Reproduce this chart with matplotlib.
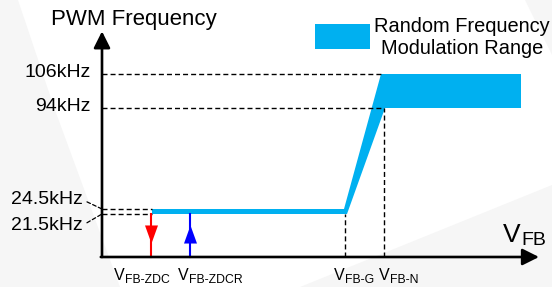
import numpy as np
import matplotlib
matplotlib.use("Agg")
import matplotlib.pyplot as plt
from matplotlib.patches import Polygon, Rectangle

plt.rcParams["font.family"] = ["Liberation Sans", "DejaVu Sans"]

W, H = 552, 287

# frequency levels, kHz
FREQ_TICKS = [106.0, 94.0]
FREQ_TICK_LABELS = ["106kHz", "94kHz"]
FREQ_LOW = [24.5, 21.5]
FREQ_LOW_LABELS = ["24.5kHz", "21.5kHz"]

# V_FB positions along the (unscaled) horizontal axis
X0 = 102
X_END = 539
V_ZDC, V_ZDCR, V_G, V_N = 151, 190, 345, 384
V_NAMES = ["FB-ZDC", "FB-ZDCR", "FB-G", "FB-N"]
V_POS = [V_ZDC, V_ZDCR, V_G, V_N]

# outline of the random frequency modulation band
BAND_UP_V = [152, 344, 381, 521]
BAND_UP_F = [24.5, 24.5, 106.0, 106.0]
BAND_LO_V = [152, 347, 385, 521]
BAND_LO_F = [21.5, 21.5, 94.0, 94.0]

F_TOP = 121.0
HEAD_F = 11.5

# piecewise frequency axis (schematic, not to scale)
KNOTS_F = [-15.0, 0.0, 21.5, 24.5, 94.0, 106.0, 132.0]
KNOTS_H = [0.0, 30.0, 73.0, 78.0, 179.0, 213.0, 287.0]

CYAN = "#00b0f0"
DASH = (0, (3.6, 2.2))


def fwd(f):
    return np.interp(f, KNOTS_F, KNOTS_H)


def inv(h):
    return np.interp(h, KNOTS_H, KNOTS_F)


fig = plt.figure(figsize=(W / 100, H / 100), dpi=100)
fig.patch.set_facecolor("white")

# faint background swoosh
for pts in ([(0, 0), (18, 0), (55, 110), (120, 287), (0, 287)],
            [(300, 287), (552, 185), (552, 287)],
            [(525, 0), (552, 0), (552, 55)]):
    fig.patches.append(Polygon([(x / W, 1 - y / H) for x, y in pts], closed=True,
                               transform=fig.transFigure, color="#f6f6f6", lw=0, zorder=-5))

ax = fig.add_axes([0, 0, 1, 1])
ax.set_yscale("function", functions=(fwd, inv))
ax.set_xlim(0, W)
ax.set_ylim(KNOTS_F[0], KNOTS_F[-1])
ax.axis("off")
ax.patch.set_alpha(0)

# band
ax.fill(np.r_[BAND_UP_V, BAND_LO_V[::-1]], np.r_[BAND_UP_F, BAND_LO_F[::-1]],
        color=CYAN, lw=0, zorder=2)

# dashed guides
ax.plot([X0, BAND_UP_V[2]], [106, 106], color="black", lw=1.0, ls=DASH)
ax.plot([X0, V_N], [94, 94], color="black", lw=1.0, ls=DASH)
for f in FREQ_LOW:
    ax.plot([X0, BAND_UP_V[0]], [f, f], color="black", lw=1.0, ls=DASH)
ax.plot([V_G, V_G], [0, 21.5], color="black", lw=1.0, ls=DASH)
ax.plot([V_N, V_N], [0, 94], color="black", lw=1.0, ls=DASH)

# hysteresis arrows
ax.plot([V_ZDC, V_ZDC], [0, 21.5], color="#ff0000", lw=1.5, zorder=3)
ax.plot(V_ZDC, HEAD_F, marker=[(0, -1), (-0.72, 1), (0.72, 1)], ms=13,
        color="#ff0000", mew=0, zorder=3)
ax.plot([V_ZDCR, V_ZDCR], [0, 21.5], color="#0000ff", lw=1.5, zorder=3)
ax.plot(V_ZDCR, HEAD_F, marker=[(0, 1), (-0.72, -1), (0.72, -1)], ms=13,
        color="#0000ff", mew=0, zorder=3)

# axes with arrow heads
arrow = dict(arrowstyle="-|>,head_length=1.0,head_width=0.5", lw=1.9, color="black",
             shrinkA=0, shrinkB=0, mutation_scale=10)
ax.annotate("", xy=(X0, F_TOP), xytext=(X0, 0), arrowprops=arrow, zorder=4)
ax.annotate("", xy=(X_END, 0), xytext=(X0 - 1.2, 0), arrowprops=arrow, zorder=4)

# frequency labels
for f, lab in zip(FREQ_TICKS, FREQ_TICK_LABELS):
    ax.annotate(lab, xy=(X0, f), xytext=(-8, 1), textcoords="offset points",
                ha="right", va="center", fontsize=14)
for f, lab, dy in zip(FREQ_LOW, FREQ_LOW_LABELS, [6.5, -8.0]):
    ax.annotate(lab, xy=(X0, f), xytext=(-13.7, dy), textcoords="offset points",
                ha="right", va="center", fontsize=14,
                arrowprops=dict(arrowstyle="-", lw=0.9, ls=(0, (3, 2)), color="black",
                                relpos=(1.0, 0.5), shrinkA=1, shrinkB=0))


def v_label(x, sub, dx, dy=-16.6, size=11.5, sub_size=8.8, drop=2.2):
    ax.annotate("V", xy=(x, 0), xytext=(dx, dy), textcoords="offset points",
                ha="left", va="baseline", fontsize=size)
    ax.annotate(sub, xy=(x, 0), xytext=(dx + 0.667 * size, dy - drop),
                textcoords="offset points", ha="left", va="baseline", fontsize=sub_size)


for x, name, dx in zip(V_POS, V_NAMES, [-26.6, -8.6, -7.9, -3.6]):
    v_label(x, name, dx)

# axis titles
fig.text(51 / W, 1 - 20 / H, "PWM Frequency", fontsize=16, ha="left", va="center")
fig.text(503 / W, 1 - 242 / H, "V", fontsize=19, ha="left", va="baseline")
fig.text(521 / W, 1 - 245 / H, "FB", fontsize=14, ha="left", va="baseline")

# legend key
fig.patches.append(Rectangle((315 / W, 1 - 49 / H), 55 / W, 25 / H,
                             transform=fig.transFigure, color=CYAN, lw=0))
fig.text(462 / W, 1 - 37 / H, "Random Frequency\nModulation Range", fontsize=14.4,
         ha="center", va="center", linespacing=1.2)

fig.savefig("out.png", dpi=100)
